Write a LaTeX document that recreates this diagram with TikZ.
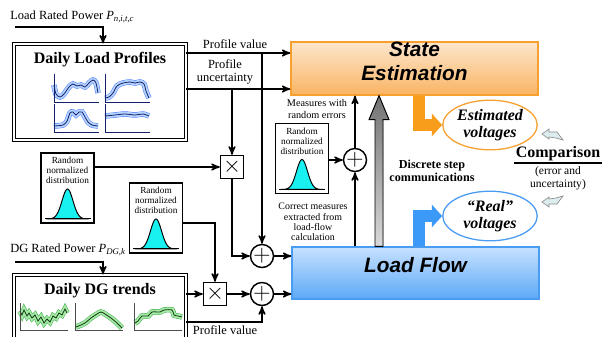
\documentclass[tikz,border=0pt]{standalone}
\usepackage{fontspec}
\setmainfont{Liberation Serif}
\setsansfont{Liberation Sans}
\usetikzlibrary{arrows,arrows.meta,positioning,fit,calc,shapes.geometric}
\definecolor{seTop}{HTML}{FDE6CC}
\definecolor{seBot}{HTML}{F9B463}
\definecolor{seLine}{HTML}{F7A030}
\definecolor{lfTop}{HTML}{C6E1FF}
\definecolor{lfBot}{HTML}{5DA9F6}
\definecolor{lfLine}{HTML}{4A9BF2}
\definecolor{vOr}{HTML}{F89C1C}
\definecolor{vBl}{HTML}{3B99F8}
\definecolor{bell}{HTML}{19F0F0}
\definecolor{lpBand}{HTML}{B4D4FF}
\definecolor{lpEdge}{HTML}{4A78FF}
\definecolor{lpMid}{HTML}{14206A}
\definecolor{dgBand}{HTML}{A6EAA6}
\definecolor{dgEdge}{HTML}{3AAA4A}
\definecolor{dgMid}{HTML}{0E3A12}
\definecolor{cmpFill}{HTML}{DDEDEF}
\tikzset{
	txt/.style = {align=center, inner sep=0pt, font=\fontsize{7.8}{8.1}\selectfont},
	txt_s/.style = {txt, font=\fontsize{6.4}{7.3}\selectfont},% small labels
	ttl/.style = {inner sep=0pt, font=\fontsize{10}{12}\selectfont\bfseries},% box titles
	prof_box/.style = {draw, double, line width=0.6pt, double distance=1.2pt,
		inner sep=0pt},% profiles, double border
	rnd_box/.style = {draw, line width=0.9pt, minimum width=33pt,
		minimum height=44pt, inner sep=0pt},% random distribution
	rnd_txt/.style = {txt, anchor=north, font=\fontsize{5.8}{6.3}\selectfont},
	op_x/.style = {draw, line width=0.9pt, minimum size=14.4pt, inner sep=0pt,
		font=\fontsize{15}{15}\selectfont},% product
	op_p/.style = {draw, circle, line width=0.9pt, minimum size=14.4pt,
		inner sep=0pt, font=\fontsize{15}{15}\selectfont},% sum
	blk_se/.style = {draw=seLine, line width=0.8pt, top color=seTop,
		bottom color=seBot, inner sep=0pt, align=center,
		font=\fontsize{13}{15}\selectfont\sffamily\bfseries\itshape},
	blk_lf/.style = {blk_se, draw=lfLine, top color=lfTop, bottom color=lfBot},
	volt/.style = {ellipse, draw, line width=0.8pt, fill=white,
		minimum width=59pt, minimum height=31pt, inner sep=0pt, align=center,
		font=\fontsize{10}{10.5}\selectfont\bfseries\itshape},% voltages
	wire/.style = {->, line width=0.9pt},
	big_or/.style = {draw=vOr, line width=7.5pt, line join=miter,
		-{Triangle[width=14pt,length=6.5pt]}},
	big_bl/.style = {big_or, draw=vBl},
	gray_arr/.style = {draw=black, line width=0.6pt, top color=black!55,
		bottom color=black!15},% discrete step communications
	cmp_arr/.style = {fill=cmpFill, draw=black!45, line width=0.4pt}
}
% load profile chart: #1 position, #2 middle curve
\newcommand{\lpchart}[2]{%
	\begin{scope}[shift={#1}]
	\draw[lpEdge, line width=0.3pt, double=lpBand, double distance=2.8pt]
		plot[smooth] coordinates {#2};
	\draw[lpMid, line width=0.5pt] plot[smooth] coordinates {#2};
	\draw[lpMid, line width=0.6pt] (0,0) -- (0,28) -- (45,28);
	\end{scope}}
% DG trend chart: #1 plot type, #2 position, #3 middle curve
\newcommand{\dgchart}[3][smooth]{%
	\begin{scope}[shift={#2}]
	\draw[dgEdge, line width=0.3pt, double=dgBand, double distance=2.8pt]
		plot[#1] coordinates {#3};
	\draw[dgMid, line width=0.5pt] plot[#1] coordinates {#3};
	\draw[black!70, line width=0.6pt] (0,0) -- (0,27) -- (48,27);
	\end{scope}}
% gaussian bell inside a random box #1
\newcommand{\bellcurve}[1]{%
	\begin{scope}[shift={(#1.south)}]
	\filldraw[fill=bell, line width=0.6pt] plot[domain=-21:21, samples=43, smooth]
		(\x, {-5-30*exp(-\x*\x/60)}) -- cycle;
	\draw[line width=0.6pt] (-23,-5) -- (23,-5);
	\end{scope}}

\begin{document}
\begin{tikzpicture}[x=0.625pt, y=-0.625pt, >=stealth']
\useasboundingbox (0,0) rectangle (603,336);
\clip (0,0) rectangle (603,336);

% load profiles
\node[txt, anchor=west] (lrp_t) at (10,17) {Load Rated Power \textit{P}\textsubscript{\textit{n,i,t,c}}};
\coordinate (lrp) at (15,27);
\node[prof_box, fit={(14,44) (186,140)}] (lp) {};
\node[ttl] (lp_t) at (100,60) {Daily Load Profiles};
\lpchart{(54,74)}{(0,11) (2,20) (6,23) (10,20) (15,13) (19,10) (23,12) (27,11) (31,13) (35,9) (39,6) (42,9) (44,19)}
\lpchart{(105,74)}{(0,24) (4,23) (8,19) (12,12) (18,9) (25,8) (30,9) (35,8) (39,10) (41,17) (44,24)}
\lpchart{(54,104)}{(0,22) (9,21) (13,17) (16,9) (19,8) (22,11) (25,8) (28,8) (31,13) (34,18) (38,21) (44,22)}
\lpchart{(105,104)}{(0,12) (10,11) (20,10) (30,11) (38,10) (44,12)}
\draw[wire] (lrp) -| (lp.north -| 103,0);

% DG trends
\node[txt, anchor=west] (dgp_t) at (10,250) {DG Rated Power \textit{P}\textsubscript{\textit{DG,k}}};
\coordinate (dgp) at (15,262);
\node[prof_box, fit={(14,275) (186,350)}] (dg) {};
\node[ttl] (dg_t) at (100,291) {Daily DG trends};
\dgchart[sharp plot]{(20,303)}{(0,8) (2,12) (4,7) (7,13) (9,10) (12,15) (15,12) (18,18) (21,14) (24,20) (27,16) (30,19) (33,13) (36,15) (39,10) (42,12) (45,6) (47,10)}
\dgchart{(75,303)}{(1,24) (6,22) (10,20) (16,15) (22,11) (26,9) (30,11) (36,15) (42,20) (47,25)}
\dgchart{(134,303)}{(1,20) (4,18) (8,13) (14,13) (18,9) (26,9) (30,7) (38,7) (40,12) (44,13) (48,14)}
\draw[wire] (dgp) -| (dg.north -| 103,0);

% main blocks
\node[blk_se, fit={(291,42) (538,95)}] (se) {State\\Estimation};
\node[blk_lf, fit={(292,247) (539,299)}] (lf) {Load Flow};

% random distributions and operators
\node[rnd_box] (r1) at (67.5,188) {};
\node[rnd_txt] (r1_t) at ([yshift=-3pt]r1.north) {Random\\normalized\\distribution};
\bellcurve{r1}
\node[rnd_box] (r2) at (156,218) {};
\node[rnd_txt] (r2_t) at ([yshift=-3pt]r2.north) {Random\\normalized\\distribution};
\bellcurve{r2}
\node[rnd_box] (r3) at (302,158.5) {};
\node[rnd_txt] (r3_t) at ([yshift=-3pt]r3.north) {Random\\normalized\\distribution};
\bellcurve{r3}
\node[op_x] (m1) at (232,167) {$\times$};
\node[op_x] (m2) at (215,294) {$\times$};
\node[op_p] (p1) at (262,256) {$+$};
\node[op_p] (p2) at (262,294) {$+$};
\node[op_p] (p3) at (355,160) {$+$};

% profile outputs
\draw[wire] (lp.east |- 0,53) -- (se.west |- 0,53);
\draw[wire] (lp.east |- 0,89) -- (se.west |- 0,89);
\node[txt] (pv_t) at (235,44) {Profile value};
\node[txt] (pu_t) at (225,72) {Profile\\uncertainty};
\draw[wire] (p1 |- 0,53) -- (p1.north);
\draw[wire] (m1 |- 0,89) -- (m1.north);
\draw[wire] (r1.east |- m1) -- (m1.west);
\draw[wire] (m1.south) |- (p1.west);
\draw[wire] (r2.east |- 0,223) -| (m2.north);
\draw[wire] (dg.east |- m2) -- (m2.west);
\draw[wire] (m2.east) -- (p2.west);
\draw[wire] (dg.east |- 0,322) -| (p2.south);
\node[txt] (pv2_t) at (225,330) {Profile value};
\draw[wire] (p1.east) -- (lf.west |- p1);
\draw[wire] (p2.east) -- (lf.west |- p2);

% measures
\draw[wire] (lf.north -| p3) -- (p3.south);
\draw[wire] (p3.north) -- (se.south -| p3);
\draw[wire] (r3.east |- p3) -- (p3.west);
\node[txt_s] (mre_t) at (317,109) {Measures with\\random errors};
\node[txt_s, font=\fontsize{6.2}{6.5}\selectfont] (cml_t) at (313,222) {Correct measures\\extracted from\\load-flow\\calculation};

% communications
\coordinate (ga_t) at (se.south -| 379,0);
\coordinate (ga_b) at (lf.north -| 379,0);
\filldraw[gray_arr] ($(ga_b)+(-4,0)$) -- ($(ga_t)+(-4,24)$) -- ($(ga_t)+(-10,24)$)
	-- (ga_t) -- ($(ga_t)+(10,24)$) -- ($(ga_t)+(4,24)$) -- ($(ga_b)+(4,0)$) -- cycle;
\node[txt, font=\fontsize{7.6}{8.1}\selectfont\bfseries] (dsc_t) at (432,171) {Discrete step\\communications};

% voltages
\node[volt, draw=seLine] (ev) at (490,125) {Estimated\\voltages};
\node[volt, draw=lfLine] (rv) at (490,216) {“Real”\\voltages};
\draw[big_or] (se.south -| 419,0) |- (ev.west);
\draw[big_bl] (lf.north -| 419,0) |- (rv.west);

% comparison
\node[inner sep=1pt, font=\fontsize{10}{12}\selectfont\bfseries] (cmp) at (558,154) {Comparison};
\draw[line width=1.1pt] (cmp.south west) -- (cmp.south east);
\node[txt, font=\fontsize{7.2}{8}\selectfont] (cmp_t) at (558,178) {(error and\\uncertainty)};
\filldraw[cmp_arr] (542,134) -- (549,129) -- (549,132) -- (557,132) -- (563,140)
	-- (556,138) -- (549,137) -- (549,139) -- cycle;
\filldraw[cmp_arr] (542,202) -- (549,207) -- (549,204) -- (557,204) -- (563,196)
	-- (556,198) -- (549,199) -- (549,197) -- cycle;
\end{tikzpicture}
\end{document}
